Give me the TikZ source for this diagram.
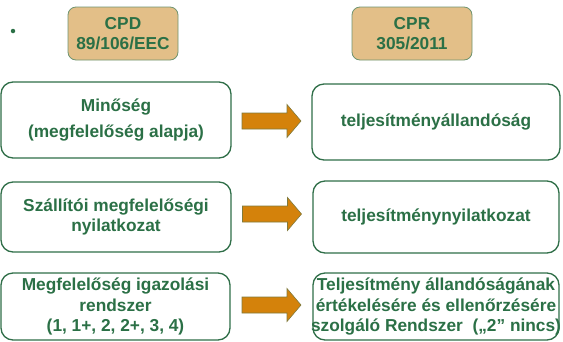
\documentclass[tikz,border=0pt]{standalone}
\usepackage{fontspec}
\setmainfont{Liberation Sans}
\usetikzlibrary{calc}
\definecolor{tanfill}{HTML}{E3BF88}
\definecolor{boxgreen}{HTML}{2F6E48}
\definecolor{txtgreen}{HTML}{2B7046}
\definecolor{hdredge}{HTML}{6F9470}
\definecolor{arroworange}{HTML}{D4820B}
\definecolor{arrowedge}{HTML}{7F7A3C}
\tikzset{
  box/.style={draw=boxgreen, line width=1.3pt, rounded corners=12pt, fill=white,
    text=txtgreen, font=\fontsize{17.3}{20.5}\selectfont\bfseries, align=center, inner sep=0pt},
  hdr/.style={box, fill=tanfill, draw=hdredge, line width=0.8pt, rounded corners=8pt},
  blockarrow/.style={fill=arroworange, draw=arrowedge, line width=0.6pt},
  barrow/.pic={\filldraw[blockarrow] (-29.5,-8) -- (15.5,-8) -- (15.5,-16.5) -- (29.5,0)
     -- (15.5,16.5) -- (15.5,8) -- (-29.5,8) -- cycle;}
}
\begin{document}
\begin{tikzpicture}[x=1pt,y=-1pt]
\useasboundingbox (0,0) rectangle (563,341);
\node[circle, fill=txtgreen, inner sep=0pt, minimum size=4.5pt] (bullet) at (13,31) {};
\node[hdr, minimum width=110pt, minimum height=53pt] (cpd) at (123,33.5) {CPD\\89/106/EEC};
\node[hdr, minimum width=120pt, minimum height=53pt] (cpr) at (412,33.5) {CPR\\305/2011};
\node[box, minimum width=230pt, minimum height=76pt] (L1) at (116,120) {Minőség\\[6pt](megfelelőség alapja)};
\node[box, minimum width=248pt, minimum height=76pt] (R1) at (436,122) {teljesítményállandóság};
\node[box, minimum width=230pt, minimum height=70pt] (L2) at (116,217) {Szállítói megfelelőségi\\nyilatkozat};
\node[box, minimum width=246pt, minimum height=72pt] (R2) at (436,217) {teljesítménynyilatkozat};
\node[box, minimum width=229pt, minimum height=67pt] (L3) at (115.5,306.5) {Megfelelőség igazolási\\rendszer\\(1, 1+, 2, 2+, 3, 4)};
\node[box, minimum width=246pt, minimum height=67pt] (R3) at (436,306.5) {};
\node[box, draw=none, fill=none] (R3text) at (R3.center) {Teljesítmény állandóságának\\értékelésére és ellenőrzésére\\szolgáló Rendszer\ \ („2” nincs)};
\pic at ($(L1.east)!0.5!(R1.west)$) {barrow};
\pic at ($(L2.east)!0.5!(R2.west)+(0,-3)$) {barrow};
\pic at ($(L3.east)!0.5!(R3.west)+(0,-1.5)$) {barrow};
\end{tikzpicture}
\end{document}
